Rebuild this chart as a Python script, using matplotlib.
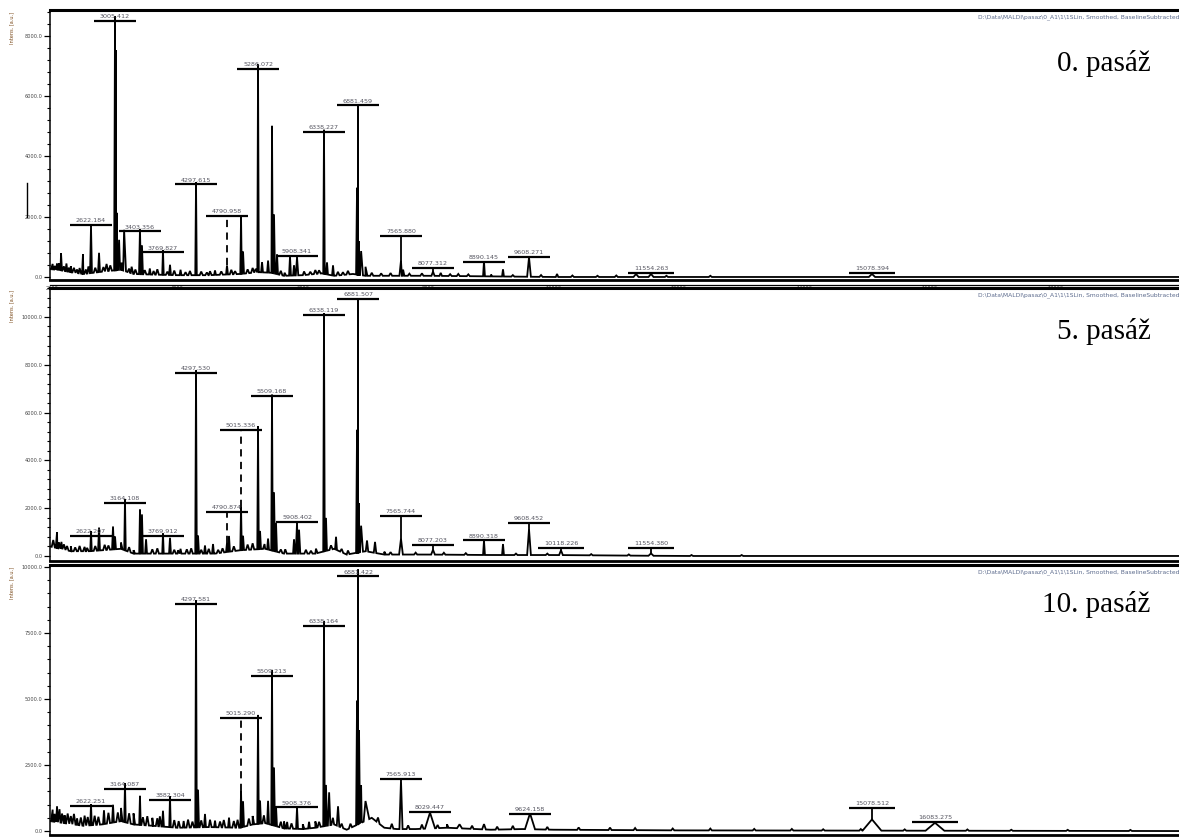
import numpy as np
import matplotlib
matplotlib.use("Agg")
import matplotlib.pyplot as plt
from matplotlib.ticker import MultipleLocator, FuncFormatter
from matplotlib.lines import Line2D

# ---------------- data (m/z in Da, intensities in a.u.) ----------------
panel_titles = ["0. pasáž", "5. pasáž", "10. pasáž"]
panel_units = [2000, 2000, 2500]          # y major tick step per panel
x_ticks = [2000, 4000, 6000, 8000, 10000, 12000, 14000, 16000, 18000]

# --- 0. pasáž ---
p0_mz = [2080, 2144, 2300, 2494, 2622, 2750, 3005, 3021, 3037, 3070, 3150, 3403, 3435,
         3560, 3770, 3882, 4050, 4297, 4600, 4791, 5015, 5047, 5286, 5350, 5446, 5509,
         5541, 5589, 5796, 5860, 5908, 6338, 6386, 6482, 6865, 6881, 6897, 6930, 7000,
         7566, 7600, 8077, 8200, 8890, 9193, 9608, 10055, 11315, 11554, 15078]
p0_int = [200, 560, 200, 660, 1560, 640, 8440, 7300, 1900, 1000, 1360, 1500, 960,
          200, 820, 340, 180, 3080, 150, 300, 1900, 740, 6900, 340, 400, 4880,
          1960, 660, 640, 340, 600, 4780, 400, 340, 2880, 5640, 1120, 800, 300,
          500, 200, 140, 100, 500, 240, 640, 100, 100, 100, 100]
p0_w = [15, 15, 15, 15, 15, 15, 14, 12, 15, 30, 30, 15, 15,
        15, 12, 15, 15, 12, 15, 15, 12, 15, 12, 15, 15, 12,
        15, 15, 15, 15, 20, 12, 15, 15, 15, 12, 15, 30, 30,
        25, 20, 25, 20, 15, 15, 30, 20, 40, 40, 50]
p0_noise_mz = [2010, 2040, 2110, 2190, 2230, 2270, 2350, 2400, 2440, 2540, 2580, 2690,
               2820, 2870, 2930, 3110, 3230, 3270, 3330, 3480, 3620, 3680, 3840, 3950,
               4130, 4200, 4380, 4470, 4520, 4700, 4860, 4920, 5120, 5200, 5250, 5650,
               5710, 6020, 6120, 6200, 6260, 6560, 6640, 6720, 7100, 7250, 7400, 7700,
               7900, 8350, 8480, 8640, 9000, 9350, 9800, 10300, 10700, 11000, 11800,
               12500]
p0_noise_int = [180, 120, 220, 150, 260, 140, 160, 120, 180, 140, 230, 160,
                150, 240, 180, 240, 130, 220, 150, 140, 120, 180, 110, 150,
                100, 140, 120, 90, 130, 110, 150, 100, 130, 160, 120, 140,
                100, 120, 90, 130, 110, 120, 90, 120, 100, 80, 90, 70,
                80, 60, 70, 60, 60, 50, 60, 50, 40, 50, 40, 40]
p0_base_mz = [1968, 2100, 2300, 2500, 2900, 3100, 3300, 3600, 4000, 4500, 5000, 5300,
              5500, 5700, 6000, 6300, 6500, 6800, 7000, 7500, 8000, 9000, 10000, 19975]
p0_base_int = [260, 240, 160, 100, 200, 240, 100, 80, 60, 60, 100, 160,
               140, 40, 60, 120, 40, 100, 40, 40, 40, 20, 0, 0]
p0_lab_mz = [2622, 3005, 3403, 3770, 4297, 4791, 5286, 5908, 6338, 6881, 7566, 8077,
             8890, 9608, 11554, 15078]
p0_lab_bar = [1720, 8500, 1520, 820, 3080, 2020, 6900, 700, 4820, 5700, 1360, 300,
              500, 660, 140, 140]
p0_lab_dash = [0, 0, 0, 0, 0, 1, 0, 0, 0, 0, 0, 0, 0, 0, 0, 0]
p0_lab_txt = ["2622.184", "3005.412", "3403.356", "3769.827", "4297.615", "4790.958",
              "5286.072", "5908.341", "6338.227", "6881.459", "7565.880", "8077.312",
              "8890.145", "9608.271", "11554.263", "15078.394"]

# --- 5. pasáž ---
p1_mz = [2080, 2150, 2300, 2622, 2750, 2973, 3005, 3164, 3403, 3435, 3500, 3770, 3882,
         4050, 4297, 4329, 4440, 4568, 4791, 4823, 5015, 5047, 5286, 5318, 5446, 5509,
         5541, 5573, 5860, 5908, 5940, 6338, 6370, 6530, 6865, 6881, 6897, 6930, 7024,
         7152, 7566, 8077, 8890, 9193, 9608, 10118, 11554]
p1_int = [660, 300, 200, 840, 960, 960, 540, 2150, 1840, 1640, 600, 840, 660,
          200, 7660, 760, 340, 400, 380, 660, 1800, 600, 5140, 760, 460, 6520,
          2460, 1200, 600, 1300, 1000, 9960, 1380, 540, 5140, 10580, 2060, 1100, 460,
          460, 660, 200, 600, 460, 1080, 200, 100]
p1_w = [20, 15, 15, 12, 15, 15, 15, 12, 12, 15, 15, 12, 15,
        15, 12, 15, 15, 15, 15, 15, 12, 15, 12, 15, 15, 12,
        15, 15, 15, 20, 20, 12, 15, 15, 15, 12, 15, 30, 20,
        20, 30, 30, 15, 15, 30, 30, 40]
p1_noise_mz = [2020, 2110, 2190, 2240, 2370, 2440, 2520, 2560, 2690, 2840, 2900, 3100,
               3230, 3300, 3600, 3680, 3950, 4010, 4150, 4220, 4380, 4500, 4650, 4720,
               4900, 5120, 5200, 5390, 5650, 5720, 6050, 6130, 6210, 6450, 6620, 6720,
               7300, 7400, 7800, 8250, 8600, 9400, 9900, 10600, 11200, 12200, 13000]
p1_noise_int = [300, 260, 220, 180, 160, 220, 180, 140, 200, 220, 180, 260,
                200, 140, 180, 220, 160, 140, 180, 220, 160, 200, 140, 180,
                200, 220, 260, 200, 140, 180, 160, 120, 200, 180, 140, 160,
                120, 100, 80, 80, 70, 60, 60, 50, 50, 40, 40]
p1_base_mz = [1968, 2300, 2600, 3100, 3300, 4000, 4600, 5000, 5400, 5700, 6200, 6500,
              6700, 7000, 7300, 8000, 9000, 10000, 12000, 19975]
p1_base_int = [400, 200, 200, 300, 100, 100, 100, 240, 300, 100, 100, 300,
               60, 200, 60, 60, 40, 40, 0, 0]
p1_lab_mz = [2622, 3164, 3770, 4297, 4791, 5015, 5509, 5908, 6338, 6881, 7566, 8077,
             8890, 9608, 10118, 11554]
p1_lab_bar = [840, 2220, 840, 7660, 1840, 5280, 6700, 1420, 10080, 10760, 1680, 460,
              660, 1380, 340, 340]
p1_lab_dash = [0, 0, 0, 0, 1, 1, 0, 0, 0, 0, 0, 0, 0, 0, 0, 0]
p1_lab_txt = ["2622.207", "3164.108", "3769.912", "4297.530", "4790.874", "5015.336",
              "5509.168", "5908.402", "6338.119", "6881.507", "7565.744", "8077.203",
              "8890.318", "9608.452", "10118.226", "11554.380"]

# --- 10. pasáž ---
p2_mz = [2080, 2200, 2400, 2622, 2829, 2973, 3164, 3403, 3600, 3770, 3882, 4100, 4297,
         4329, 4440, 4600, 4823, 5015, 5047, 5286, 5318, 5446, 5509, 5541, 5573, 5750,
         5908, 6100, 6338, 6370, 6420, 6562, 6865, 6881, 6897, 6930, 7000, 7566, 8029,
         8500, 8890, 9624, 15078, 16083]
p2_int = [600, 300, 250, 800, 525, 675, 1475, 1100, 300, 600, 1175, 250, 8600,
          1425, 500, 250, 375, 1375, 975, 4125, 875, 875, 5875, 2200, 750, 250,
          800, 250, 7775, 1550, 1250, 750, 4700, 9650, 3550, 1425, 750, 1850, 600,
          150, 200, 600, 425, 300]
p2_w = [15, 15, 15, 12, 15, 15, 12, 12, 15, 15, 12, 15, 12,
        15, 15, 15, 15, 12, 15, 12, 15, 15, 12, 15, 15, 15,
        15, 15, 12, 15, 20, 20, 15, 12, 15, 40, 60, 25, 80,
        40, 30, 80, 150, 150]
p2_noise_mz = [2010, 2040, 2120, 2160, 2250, 2300, 2350, 2460, 2520, 2570, 2680, 2740,
               2900, 3050, 3100, 3230, 3300, 3450, 3520, 3680, 3720, 3950, 4020, 4170,
               4240, 4380, 4520, 4680, 4740, 4900, 4960, 5140, 5200, 5380, 5650, 5700,
               5820, 6000, 6200, 6260, 6480, 6620, 6760, 7200, 7420, 7680, 7900, 8150,
               8300, 8700, 9100, 9350, 9900, 10400, 10900, 11300, 11900, 12500, 13200,
               13800, 14300, 14900, 15600, 16600, 17300, 18200, 19200]
p2_noise_int = [450, 300, 500, 350, 380, 300, 400, 300, 380, 320, 350, 300,
                400, 350, 500, 380, 420, 300, 350, 300, 380, 280, 250, 300,
                220, 260, 280, 220, 280, 250, 300, 260, 320, 300, 220, 260,
                200, 180, 240, 200, 260, 150, 160, 200, 180, 140, 160, 120,
                130, 120, 110, 130, 100, 90, 90, 80, 70, 70, 60,
                60, 50, 60, 50, 50, 40, 40, 40]
p2_base_mz = [1968, 2200, 2500, 2800, 3100, 3300, 3600, 4000, 4500, 5000, 5200, 5400,
              5700, 6000, 6200, 6500, 6700, 7100, 7300, 7500, 7800, 8300, 9000, 9500,
              10000, 12000, 19975]
p2_base_int = [375, 300, 200, 250, 375, 250, 200, 125, 150, 125, 250, 300,
               100, 75, 125, 250, 50, 500, 125, 75, 75, 125, 50, 75,
               50, 25, 0]
p2_lab_mz = [2622, 3164, 3882, 4297, 5015, 5509, 5908, 6338, 6881, 7566, 8029, 9624,
             15078, 16083]
p2_lab_bar = [950, 1600, 1175, 8600, 4275, 5875, 900, 7775, 9650, 1975, 725, 650,
              875, 350]
p2_lab_dash = [0, 0, 0, 0, 1, 0, 0, 0, 0, 0, 0, 0, 0, 0]
p2_lab_txt = ["2622.251", "3164.087", "3882.304", "4297.581", "5015.290", "5509.213",
              "5908.376", "6338.164", "6881.422", "7565.913", "8029.447", "9624.158",
              "15078.512", "16083.275"]

info_text = "D:\\Data\\MALDI\\pasaz\\0_A1\\1\\1SLin, Smoothed, BaselineSubtracted"

# ---------------- layout ----------------
W, H = 1179, 838
fig = plt.figure(figsize=(W / 100, H / 100), dpi=100)
plt.rcParams['font.family'] = ['DejaVu Sans']

def axpos(top, bottom, left=50, right=1179):
    return [left / W, 1 - bottom / H, (right - left) / W, (bottom - top) / H]

panels = [
    dict(mz=p0_mz, it=p0_int, w=p0_w, nmz=p0_noise_mz, nint=p0_noise_int,
         bmz=p0_base_mz, bint=p0_base_int,
         lmz=p0_lab_mz, lbar=p0_lab_bar, ldash=p0_lab_dash, ltxt=p0_lab_txt,
         top=10, bottom=280, ylim=(-100, 8860), tpos=63, xlabels=True),
    dict(mz=p1_mz, it=p1_int, w=p1_w, nmz=p1_noise_mz, nint=p1_noise_int,
         bmz=p1_base_mz, bint=p1_base_int,
         lmz=p1_lab_mz, lbar=p1_lab_bar, ldash=p1_lab_dash, ltxt=p1_lab_txt,
         top=288, bottom=561, ylim=(-210, 11210), tpos=331, xlabels=False),
    dict(mz=p2_mz, it=p2_int, w=p2_w, nmz=p2_noise_mz, nint=p2_noise_int,
         bmz=p2_base_mz, bint=p2_base_int,
         lmz=p2_lab_mz, lbar=p2_lab_bar, ldash=p2_lab_dash, ltxt=p2_lab_txt,
         top=565, bottom=835, ylim=(-150, 10075), tpos=604, xlabels=False),
]

for i, p in enumerate(panels):
    ax = fig.add_axes(axpos(p['top'], p['bottom']))
    ax.set_xlim(1968, 19975)
    ax.set_ylim(*p['ylim'])

    # build spectrum trace: baseline points plus triangular peaks
    bmz = np.array(p['bmz'], float)
    bint = np.array(p['bint'], float)
    xs = list(bmz)
    ys = list(bint)
    apex = {}
    pk_mz = list(p['mz']) + list(p['nmz'])
    pk_int = list(p['it']) + list(p['nint'])
    pk_w = list(p['w']) + [25] * len(p['nmz'])
    for m, h, w in zip(pk_mz, pk_int, pk_w):
        b = np.interp(m, bmz, bint)
        xs += [m - w, m, m + w]
        ys += [np.interp(m - w, bmz, bint), b + h, np.interp(m + w, bmz, bint)]
        apex.setdefault(m, b + h)
    order = np.argsort(xs, kind='stable')
    xs = np.array(xs)[order]
    ys = np.array(ys)[order]
    ax.plot(xs, ys, color='black', lw=1.3, solid_joinstyle='miter')

    # peak annotations
    for m, bar, d, t in zip(p['lmz'], p['lbar'], p['ldash'], p['ltxt']):
        half = 330 if m < 10000 else 370
        ax.plot([m - half, m + half], [bar, bar], color='black', lw=1.6,
                solid_capstyle='butt')
        a = apex.get(m, 0)
        if bar > a:
            ax.plot([m, m], [a, bar], color='black', lw=1.3,
                    ls=(0, (4, 3)) if d else '-')
        ax.annotate(t, (m, bar), xytext=(0, 1.2), textcoords='offset points',
                    ha='center', va='bottom', fontsize=4.6, color='#555560')

    unit = panel_units[i]
    ax.yaxis.set_major_locator(MultipleLocator(unit))
    ax.yaxis.set_minor_locator(MultipleLocator(unit / 5))
    ax.yaxis.set_major_formatter(FuncFormatter(lambda v, pos: "%.1f" % v))
    ax.tick_params(axis='y', which='major', length=4, width=0.9, labelsize=3.6,
                   pad=1.5, labelcolor='#444444', direction='out')
    ax.tick_params(axis='y', which='minor', length=2.5, width=0.8, direction='out')
    ax.set_xticks(x_ticks)
    if p['xlabels']:
        ax.set_xticklabels([str(v) for v in x_ticks])
        ax.tick_params(axis='x', length=0, labelsize=3.6, pad=4.5,
                       labelcolor='#444444')
    else:
        ax.tick_params(axis='x', length=0, labelbottom=False)

    ax.spines['right'].set_visible(False)
    ax.spines['top'].set_linewidth(2.2)
    ax.spines['bottom'].set_linewidth(2.0)
    ax.spines['left'].set_linewidth(1.1)

    ax.text(0.975, 1 - (p['tpos'] - p['top']) / (p['bottom'] - p['top']),
            panel_titles[i], transform=ax.transAxes, ha='right', va='center',
            fontsize=21, family='Liberation Serif', color='black')
    ax.text(1.0, 0.985, info_text, transform=ax.transAxes, ha='right', va='top',
            fontsize=4.3, color='#5b6a8c')

    fig.text(12 / W, 1 - (p['top'] + 2) / H, "Intens. [a.u.]", rotation=90,
             ha='center', va='top', fontsize=3.6, color='#7a4a1a')

# strip line under panel 1 axis
fig.add_artist(Line2D([50 / W, 1.0], [1 - 285 / H, 1 - 285 / H], color='black', lw=0.9))
# small marker line at the left of panel 1
fig.add_artist(Line2D([27 / W, 27 / W], [1 - 183 / H, 1 - 217 / H], color='black', lw=1.0))

fig.savefig("out.png", dpi=100)
